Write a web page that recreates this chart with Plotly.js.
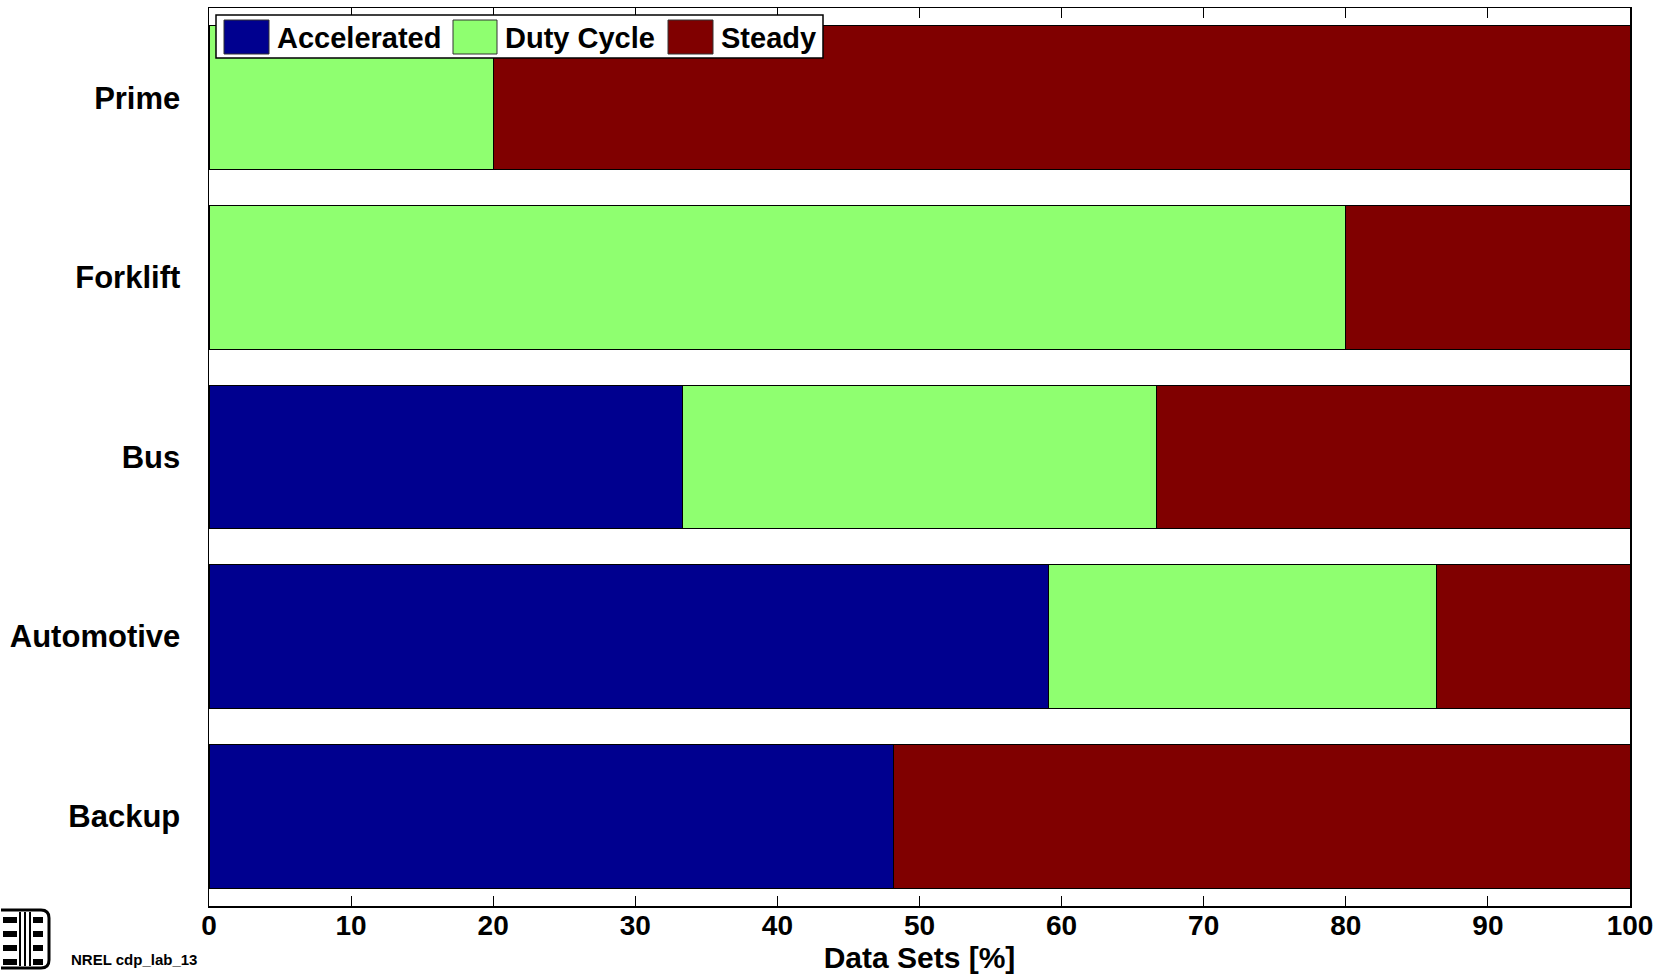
<!DOCTYPE html>
<html>
<head>
<meta charset="utf-8">
<script src="https://cdn.plot.ly/plotly-3.0.1.min.js"></script>
<style>html,body{margin:0;padding:0;background:#fff;}#chart{width:1666px;height:974px;}</style>
</head>
<body>
<div id="chart"></div>
<script>
// ---- data ----
const categories = ['Prime', 'Forklift', 'Bus', 'Automotive', 'Backup'];
const seriesNames = ['Accelerated', 'Duty Cycle', 'Steady'];
const accelerated = [0, 0, 33.33, 59.09, 48.2];
const dutyCycle   = [20, 80, 33.33, 27.27, 0];
const steady      = [80, 20, 33.34, 13.64, 51.8];
const xTicks = [0, 10, 20, 30, 40, 50, 60, 70, 80, 90, 100];
const xTitle = 'Data Sets [%]';
const footnote = 'NREL cdp_lab_13';

const colors = ['#00008f', '#8fff70', '#800000'];
const W = 1666, H = 974;
const M = {l: 209, r: 36, t: 8, b: 68};
const PW = W - M.l - M.r, PH = H - M.t - M.b;
const px = X => (X - M.l) / PW;
const py = Y => 1 - (Y - M.t) / PH;
const FONT = 'Liberation Sans, Arial, Helvetica, sans-serif';

const values = [accelerated, dutyCycle, steady];
const traces = seriesNames.map((n, i) => ({
  type: 'bar', orientation: 'h', name: n,
  y: categories, x: values[i],
  marker: {color: colors[i], line: {color: '#000', width: 1}},
  showlegend: false, hoverinfo: 'name+x'
}));

// custom legend (large swatches like the original)
const shapes = [];
const annotations = [];
shapes.push({type: 'rect', xref: 'paper', yref: 'paper', x0: px(216), x1: px(823), y0: py(58), y1: py(15),
  line: {color: '#000', width: 1.5}, fillcolor: '#fff', layer: 'above'});
const sw = [[224, 269, 275], [453, 497, 503], [668, 713, 719]];
seriesNames.forEach((n, i) => {
  shapes.push({type: 'rect', xref: 'paper', yref: 'paper', x0: px(sw[i][0]), x1: px(sw[i][1]), y0: py(54), y1: py(20),
    line: {color: '#333', width: 1}, fillcolor: colors[i], layer: 'above'});
  annotations.push({xref: 'paper', yref: 'paper', x: px(sw[i][2]), y: py(38), xanchor: 'left', yanchor: 'middle',
    text: n, showarrow: false, font: {family: FONT, size: 29, color: '#000', weight: 700}});
});

// NREL logo approximation (bottom-left)
const logo = {x0: 1, x1: 49, y0: 910, y1: 968};
shapes.push({type: 'path', xref: 'paper', yref: 'paper',
  path: `M ${px(logo.x0)} ${py(logo.y0)} L ${px(logo.x1 - 8)} ${py(logo.y0)} Q ${px(logo.x1)} ${py(logo.y0)} ${px(logo.x1)} ${py(logo.y0 + 8)} L ${px(logo.x1)} ${py(logo.y1 - 8)} Q ${px(logo.x1)} ${py(logo.y1)} ${px(logo.x1 - 8)} ${py(logo.y1)} L ${px(logo.x0)} ${py(logo.y1)}`,
  line: {color: '#000', width: 3}, layer: 'above'});
[20, 25, 30].forEach(x => shapes.push({type: 'line', xref: 'paper', yref: 'paper', x0: px(x), x1: px(x), y0: py(912), y1: py(966), line: {color: '#000', width: 2}}));
[917, 931, 945, 959].forEach(y => {
  shapes.push({type: 'rect', xref: 'paper', yref: 'paper', x0: px(3), x1: px(17), y0: py(y + 6), y1: py(y), fillcolor: '#000', line: {width: 0}});
  shapes.push({type: 'rect', xref: 'paper', yref: 'paper', x0: px(33), x1: px(43), y0: py(y + 6), y1: py(y), fillcolor: '#000', line: {width: 0}});
});
annotations.push({xref: 'paper', yref: 'paper', x: px(69), y: py(959), xanchor: 'left', yanchor: 'middle',
  text: footnote, showarrow: false, font: {family: FONT, size: 15, color: '#000', weight: 700}});

const layout = {
  width: W, height: H,
  margin: M,
  paper_bgcolor: '#fff', plot_bgcolor: '#fff',
  barmode: 'stack', bargap: 0.2,
  showlegend: false,
  font: {family: FONT, color: '#000', weight: 700},
  xaxis: {
    range: [0, 100], tickvals: xTicks, ticktext: xTicks.map(String),
    ticks: 'inside', ticklen: 10, tickwidth: 1, tickcolor: '#000',
    showline: true, linecolor: '#000', linewidth: 1.5, mirror: 'allticks',
    showgrid: false, zeroline: false, ticklabelstandoff: -6,
    tickfont: {family: FONT, size: 28, color: '#000', weight: 700},
    title: {text: xTitle, font: {family: FONT, size: 30, color: '#000', weight: 700}, standoff: 7},
    fixedrange: true
  },
  yaxis: {
    type: 'category', categoryorder: 'array', categoryarray: categories,
    range: [4.5, -0.5],
    ticks: '', showline: true, linecolor: '#000', linewidth: 1.5, mirror: true,
    showgrid: false, zeroline: false, ticklabelstandoff: 21,
    tickfont: {family: FONT, size: 31, color: '#000', weight: 700},
    fixedrange: true
  },
  shapes: shapes,
  annotations: annotations
};

Plotly.newPlot('chart', traces, layout, {displayModeBar: false, staticPlot: true});
</script>
</body>
</html>
